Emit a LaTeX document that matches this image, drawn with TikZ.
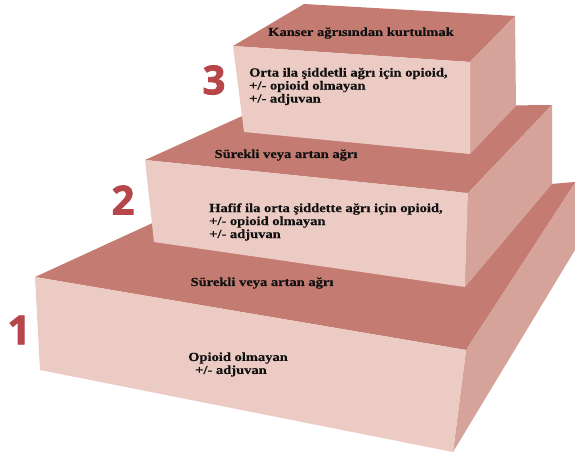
\documentclass[tikz,border=0pt]{standalone}
\usepackage{fontspec}
\setmainfont{Liberation Serif}
\newfontfamily\lblfont[FakeStretch=1.18,FakeBold=0.4]{Liberation Serif}
\newfontfamily\numfont[FakeBold=2]{Open Sans}
\definecolor{topc}{HTML}{C47C72}
\definecolor{frontc}{HTML}{EBCBC3}
\definecolor{sidec}{HTML}{D6A39A}
\definecolor{numc}{HTML}{B5474B}
\definecolor{txtc}{HTML}{111111}
\tikzset{
  topface/.style={fill=topc, draw=none},
  frontface/.style={fill=frontc, draw=none},
  sideface/.style={fill=sidec, draw=none},
  lbl/.style={inner sep=0pt, text=txtc, font=\lblfont\bfseries\fontsize{12.3}{13}\selectfont},
  lbll/.style={lbl, align=left},
  stepnum/.style={inner sep=0pt, text=numc, font=\numfont\bfseries\fontsize{40}{40}\selectfont}
}
\begin{document}
\begin{tikzpicture}[x=1pt,y=-1pt]
\useasboundingbox (0,0) rectangle (575,457);
% bottom block
\fill[topface] (35,277) -- (466,350) -- (575,183) -- (575,182) -- (170,215) -- cycle;
\fill[sideface] (466,350) -- (575,183) -- (575,250) -- (453,452) -- cycle;
\fill[frontface] (35,277) -- (466,350) -- (453,452) -- (40,370) -- cycle;
% middle block
\fill[topface] (145,160) -- (468,193) -- (552,105) -- (260,108) -- cycle;
\fill[sideface] (468,193) -- (552,105) -- (552,184) -- (465,287) -- cycle;
\fill[frontface] (145,160) -- (468,193) -- (465,287) -- (154,242) -- cycle;
% top block
\fill[topface] (233,46) -- (470,62) -- (515,16) -- (304,4) -- cycle;
\fill[sideface] (470,62) -- (515,16) -- (516,106) -- (470,154) -- cycle;
\fill[frontface] (233,46) -- (470,62) -- (470,154) -- (244,132) -- cycle;
% labels
\node[lbl] (t3) at (361,33) {Kanser ağrısından kurtulmak};
\node[lbll, anchor=west] (b3) at (249,86.5) {Orta ila şiddetli ağrı için opioid,\\+/- opioid olmayan\\+/- adjuvan};
\node[lbl] (t2) at (286,155) {Sürekli veya artan ağrı};
\node[lbll, anchor=west] (b2) at (209,222) {Hafif ila orta şiddette ağrı için opioid,\\+/- opioid olmayan\\+/- adjuvan};
\node[lbl] (t1) at (262,283) {Sürekli veya artan ağrı};
\node[lbll, anchor=west] (b1) at (188,364.5) {Opioid olmayan\\\hspace*{7pt}+/- adjuvan};
% step numbers
\node[stepnum] (n3) at (214,80) {3};
\node[stepnum] (n2) at (123,200) {2};
\node[stepnum] (n1) at (19,330) {1};
\end{tikzpicture}
\end{document}
